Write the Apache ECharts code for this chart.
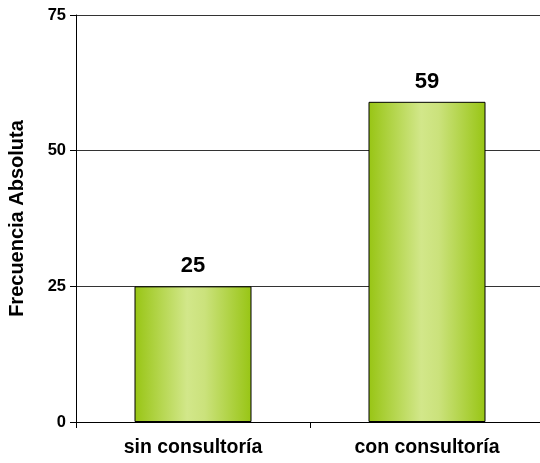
<!DOCTYPE html>
<html>
<head>
<meta charset="utf-8">
<script src="https://cdn.jsdelivr.net/npm/echarts@6/dist/echarts.min.js"></script>
<style>
  html, body { margin: 0; padding: 0; background: #fff; }
  #chart { width: 540px; height: 463px; }
</style>
</head>
<body>
<div id="chart"></div>
<script>
// Categories and absolute frequencies
const categories = ['sin consultoría', 'con consultoría'];
const frequencies = [25, 59];
const yTicks = [0, 25, 50, 75];

const FONT = 'Liberation Sans, Arial, sans-serif';
const chart = echarts.init(document.getElementById('chart'));

const barGradient = new echarts.graphic.LinearGradient(0, 0, 1, 0, [
  { offset: 0, color: '#98c514' },
  { offset: 0.45, color: '#d2e78a' },
  { offset: 0.6, color: '#cbe27c' },
  { offset: 1, color: '#98c514' }
]);

chart.setOption({
  animation: false,
  grid: {
    left: 76, right: -4, top: 15, bottom: 41,
    containLabel: false,
    outerBoundsMode: 'none'
  },
  xAxis: {
    type: 'category',
    data: categories,
    axisLine: { lineStyle: { color: '#000', width: 1 } },
    axisTick: { show: true, length: 6, lineStyle: { color: '#000' } },
    axisLabel: {
      color: '#000', fontFamily: FONT,
      fontWeight: 'bold', fontSize: 19.5, margin: 16
    }
  },
  yAxis: {
    type: 'value',
    min: yTicks[0],
    max: yTicks[yTicks.length - 1],
    interval: 25,
    name: 'Frecuencia Absoluta',
    nameLocation: 'middle',
    nameGap: 49,
    nameTextStyle: {
      color: '#000', fontFamily: FONT,
      fontWeight: 'bold', fontSize: 20
    },
    axisLine: { show: true, lineStyle: { color: '#000', width: 1 } },
    axisTick: { show: true, length: 6, lineStyle: { color: '#000' } },
    axisLabel: {
      color: '#000', fontFamily: FONT,
      fontWeight: 'bold', fontSize: 16.5, margin: 10
    },
    splitLine: { show: true, lineStyle: { color: '#333', width: 1 } }
  },
  series: [{
    type: 'bar',
    data: frequencies,
    barWidth: '50%',
    itemStyle: { color: barGradient, borderColor: '#000', borderWidth: 1 },
    label: {
      show: true, position: 'top', distance: 9,
      color: '#000', fontFamily: FONT,
      fontWeight: 'bold', fontSize: 22
    }
  }]
});
</script>
</body>
</html>
